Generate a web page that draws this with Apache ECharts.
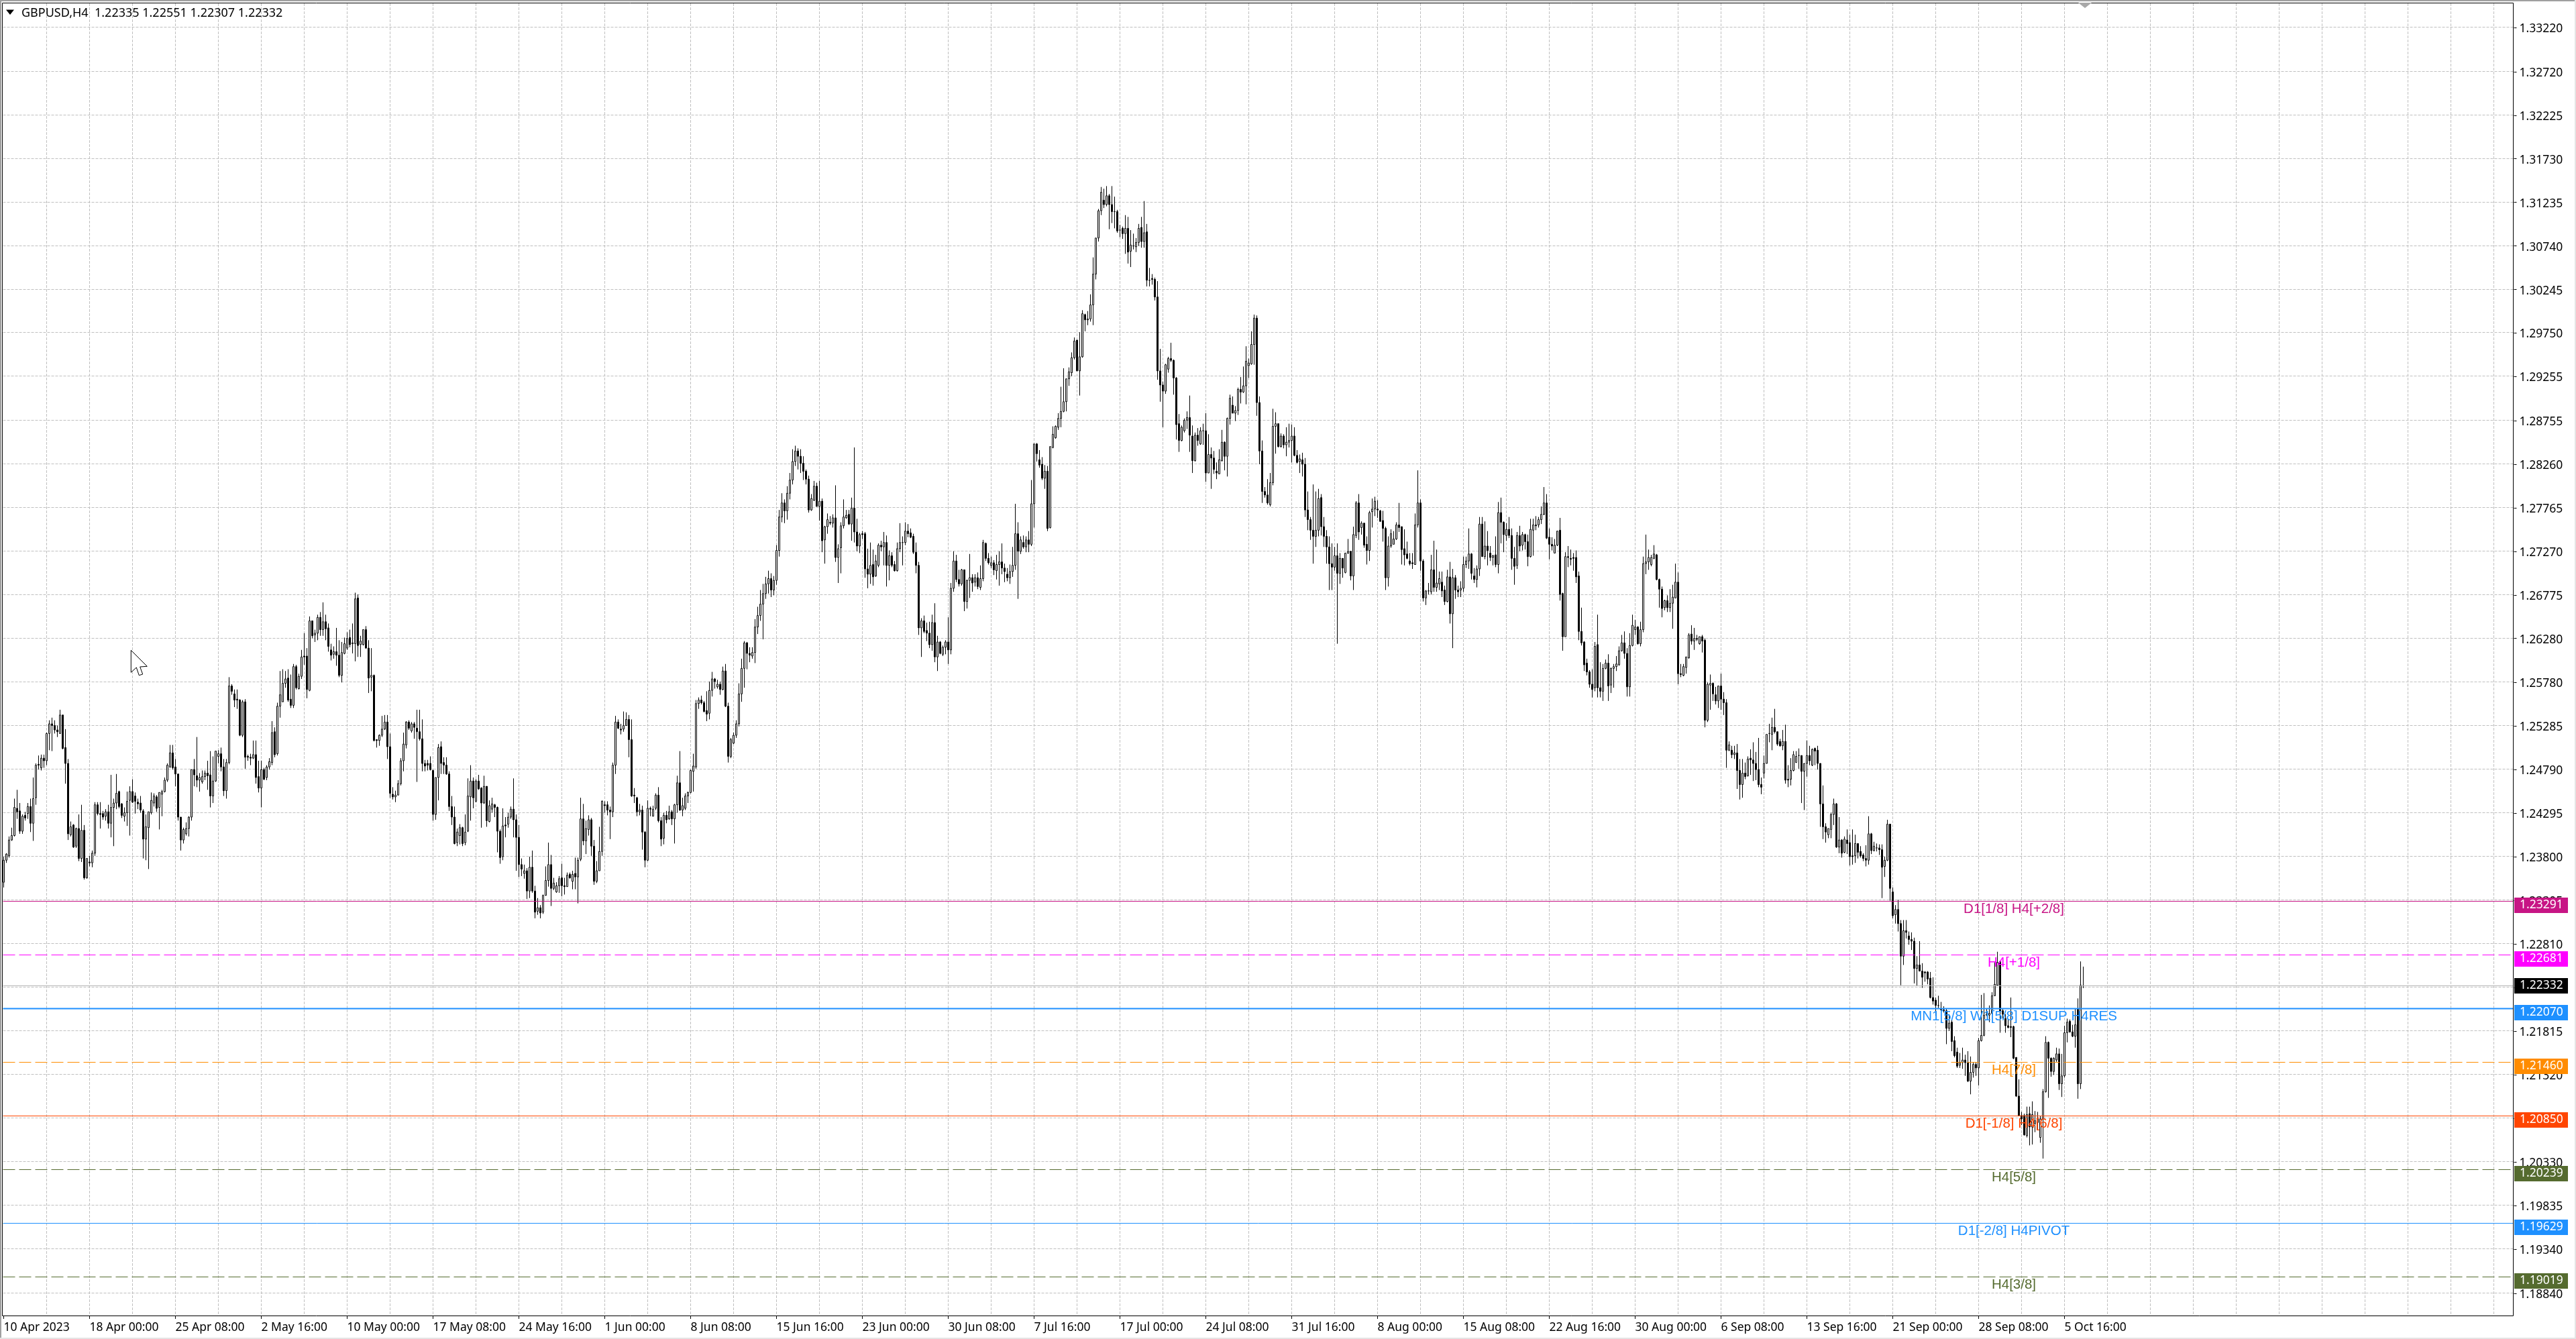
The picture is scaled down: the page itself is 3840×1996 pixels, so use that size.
<!DOCTYPE html>
<html><head><meta charset="utf-8"><style>html,body{margin:0;padding:0;background:#fff}#c{width:3840px;height:1996px}</style>
<script src="https://cdn.jsdelivr.net/npm/echarts@6/dist/echarts.min.js"></script></head><body><div id="c"></div>
<script>
// Each bar: [open, close, low, high] in units of 0.0001
const barsA=[[12351,12376,12345,12380],[12376,12383,12373,12384],[12381,12399,12379,12403],[12399,12404,12398,12413],[12404,12436,12403,12446],[12435,12431,12423,12456],[12432,12409,12406,12441],[12409,12426,12406,12428],[12427,12424,12421,12431],[12429,12437,12423,12441],[12437,12418,12408,12446],[12418,12446,12398,12470],[12447,12484,12439,12486],[12485,12484,12479,12495],[12481,12492,12478,12496],[12492,12489,12481,12496],[12489,12520,12484,12521],[12520,12531,12501,12535],[12531,12529,12500,12538],[12529,12524,12520,12535],[12524,12522,12516,12529],[12520,12541,12520,12547],[12541,12503,12502,12541],[12504,12486,12463,12525],[12486,12406,12399,12491],[12405,12414,12403,12420],[12416,12391,12390,12417],[12392,12412,12390,12413],[12412,12378,12375,12428],[12378,12410,12374,12439],[12410,12356,12354,12416],[12356,12378,12355,12378],[12374,12373,12369,12381],[12373,12384,12368,12387],[12384,12439,12381,12442],[12439,12429,12427,12442],[12429,12428,12412,12442],[12429,12425,12422,12432],[12426,12431,12421,12434],[12431,12418,12412,12439],[12418,12436,12402,12473],[12436,12441,12392,12446],[12441,12452,12434,12474],[12454,12437,12435,12455],[12440,12427,12424,12441],[12426,12430,12420,12436],[12430,12443,12415,12454],[12444,12454,12404,12460],[12454,12442,12441,12468],[12449,12443,12429,12453],[12442,12440,12434,12446],[12441,12433,12430,12449],[12432,12400,12378,12434],[12400,12414,12376,12428],[12413,12431,12366,12431],[12430,12444,12428,12453],[12441,12449,12437,12452],[12448,12435,12431,12450],[12436,12453,12411,12453],[12451,12454,12426,12456],[12454,12467,12453,12470],[12467,12484,12465,12486],[12482,12498,12481,12507],[12498,12481,12479,12507],[12482,12474,12460,12491],[12474,12425,12421,12474],[12425,12399,12387,12425],[12399,12411,12395,12413],[12406,12412,12404,12419],[12412,12425,12403,12426],[12425,12479,12421,12479],[12479,12473,12460,12491],[12472,12467,12459,12516],[12467,12470,12454,12475],[12465,12471,12463,12478],[12471,12475,12467,12478],[12475,12472,12456,12489],[12473,12449,12436,12500],[12449,12466,12441,12494],[12466,12500,12465,12500],[12494,12497,12486,12501],[12497,12482,12477,12504],[12482,12455,12449,12491],[12455,12487,12446,12491],[12487,12574,12485,12584],[12574,12568,12564,12576],[12565,12558,12550,12570],[12559,12558,12548,12570],[12558,12518,12517,12559],[12518,12556,12516,12558],[12556,12493,12480,12559],[12494,12493,12489,12496],[12493,12492,12484,12497],[12492,12496,12491,12512],[12496,12470,12463,12512],[12471,12458,12453,12489],[12458,12479,12436,12489],[12479,12468,12467,12481],[12470,12482,12467,12484],[12482,12488,12479,12492],[12487,12521,12484,12534],[12522,12496,12493,12527],[12497,12551,12495,12555],[12551,12564,12538,12591],[12556,12577,12556,12593],[12577,12582,12572,12591],[12583,12558,12556,12593],[12559,12552,12549,12587],[12552,12596,12549,12599],[12596,12572,12570,12598],[12571,12585,12570,12588],[12585,12607,12582,12615],[12608,12607,12598,12634],[12608,12570,12560,12617],[12569,12648,12568,12653],[12648,12631,12628,12648],[12632,12634,12624,12638],[12634,12652,12626,12655],[12652,12638,12631,12658],[12638,12647,12631,12669],[12647,12639,12626,12655],[12640,12619,12613,12645],[12615,12609,12603,12622],[12610,12613,12605,12619],[12613,12609,12597,12640],[12609,12586,12584,12626],[12586,12612,12578,12624],[12611,12622,12610,12629],[12617,12628,12615,12635],[12629,12621,12618,12638],[12622,12623,12611,12645],[12622,12673,12602,12680],[12674,12620,12607,12678],[12621,12625,12607,12631],[12621,12638,12620,12638],[12638,12617,12617,12642],[12617,12583,12566,12626],[12584,12586,12568,12617],[12586,12512,12511,12587],[12513,12512,12504,12513],[12512,12518,12506,12519],[12518,12525,12516,12540],[12525,12533,12524,12541],[12533,12505,12491,12541],[12505,12452,12447,12520],[12451,12448,12445,12459],[12448,12450,12442,12455],[12450,12463,12450,12467],[12463,12489,12461,12492],[12489,12508,12477,12521],[12507,12533,12503,12534],[12533,12526,12524,12535],[12523,12531,12521,12533],[12531,12527,12514,12533],[12526,12522,12465,12547],[12522,12514,12512,12547],[12514,12486,12477,12536],[12486,12483,12477,12490],[12486,12484,12478,12490],[12486,12479,12478,12494],[12478,12428,12421,12479],[12428,12470,12422,12470],[12470,12504,12444,12508],[12505,12486,12474,12511],[12487,12484,12474,12493],[12484,12474,12473,12493],[12474,12437,12432,12477],[12437,12425,12416,12449],[12425,12395,12394,12437],[12396,12408,12392,12412],[12404,12413,12394,12417],[12413,12395,12392,12414],[12396,12408,12393,12428],[12409,12449,12408,12469]];
const barsB=[[12448,12466,12421,12484],[12466,12447,12435,12470],[12443,12466,12442,12468],[12466,12457,12456,12473],[12458,12441,12413,12459],[12441,12460,12440,12472],[12460,12421,12414,12460],[12420,12438,12419,12444],[12434,12440,12430,12447],[12439,12436,12425,12440],[12436,12409,12385,12437],[12409,12379,12372,12411],[12380,12415,12376,12435],[12416,12415,12402,12425],[12417,12425,12413,12430],[12425,12434,12423,12437],[12434,12422,12402,12469],[12422,12402,12364,12428],[12402,12371,12357,12416],[12371,12366,12358,12378],[12361,12364,12355,12371],[12364,12341,12332,12367],[12341,12368,12333,12380],[12368,12341,12339,12387],[12341,12317,12310,12347],[12318,12322,12314,12333],[12322,12316,12310,12325],[12317,12336,12315,12337],[12336,12353,12336,12369],[12353,12371,12346,12396],[12371,12344,12324,12382],[12344,12350,12342,12356],[12340,12347,12339,12351],[12347,12355,12339,12358],[12356,12347,12335,12372],[12347,12346,12337,12356],[12346,12359,12346,12362],[12360,12356,12355,12362],[12352,12360,12343,12364],[12361,12357,12343,12379],[12357,12376,12327,12379],[12377,12423,12375,12447],[12423,12398,12393,12440],[12398,12412,12383,12421],[12411,12422,12404,12427],[12422,12392,12381,12424],[12392,12352,12348,12399],[12352,12364,12350,12375],[12364,12386,12364,12414],[12386,12443,12381,12444],[12439,12438,12430,12443],[12439,12433,12427,12443],[12433,12431,12400,12437],[12431,12484,12425,12487],[12484,12533,12474,12540],[12533,12526,12525,12536],[12525,12524,12519,12531],[12525,12529,12522,12545],[12529,12536,12529,12544],[12536,12513,12493,12541],[12513,12449,12448,12536],[12450,12449,12441,12458],[12447,12431,12426,12448],[12431,12433,12427,12440],[12433,12408,12388,12438],[12408,12376,12368,12409],[12376,12435,12375,12444],[12435,12434,12426,12437],[12426,12434,12426,12438],[12435,12450,12433,12452],[12450,12421,12419,12459],[12421,12400,12392,12425],[12401,12427,12394,12430],[12427,12422,12418,12432],[12423,12431,12422,12438],[12431,12423,12416,12433],[12423,12439,12395,12440],[12439,12464,12430,12472],[12464,12433,12432,12500],[12433,12438,12426,12447],[12435,12449,12433,12452],[12449,12453,12441,12454],[12453,12478,12452,12479],[12477,12483,12454,12497],[12482,12554,12480,12558],[12554,12558,12548,12561],[12558,12555,12553,12563],[12555,12545,12544,12557],[12546,12542,12534,12568],[12543,12569,12536,12579],[12569,12582,12562,12590],[12582,12579,12571,12583],[12573,12576,12571,12581],[12576,12570,12564,12579],[12570,12591,12569,12596],[12591,12551,12550,12599],[12551,12494,12487,12555],[12494,12513,12492,12515],[12509,12518,12508,12521],[12518,12531,12515,12535],[12531,12565,12528,12577],[12565,12594,12556,12605],[12594,12623,12572,12625],[12623,12611,12593,12624],[12611,12609,12601,12618],[12608,12612,12605,12618],[12612,12641,12600,12650],[12641,12654,12633,12664],[12654,12667,12648,12683],[12667,12679,12627,12690],[12679,12690,12673,12698],[12690,12696,12679,12705],[12696,12683,12675,12702],[12683,12694,12677,12699],[12694,12728,12689,12734],[12728,12766,12721,12774],[12766,12782,12760,12793],[12782,12773,12759,12786],[12773,12793,12763,12801],[12793,12808,12786,12816],[12808,12829,12803,12843],[12829,12841,12824,12847],[12841,12835,12820,12844],[12835,12827,12816,12843],[12827,12818,12808,12835]];
const barsC=[[12818,12809,12803,12820],[12809,12774,12771,12813],[12774,12787,12773,12792],[12785,12801,12784,12807],[12801,12778,12778,12805],[12778,12784,12762,12807],[12784,12739,12726,12787],[12740,12755,12713,12756],[12755,12763,12747,12770],[12760,12759,12757,12767],[12759,12765,12754,12769],[12765,12720,12715,12802],[12720,12730,12691,12735],[12731,12756,12702,12760],[12756,12766,12753,12786],[12765,12768,12764,12774],[12769,12758,12757,12774],[12758,12776,12739,12788],[12776,12749,12737,12845],[12749,12733,12727,12764],[12733,12746,12725,12748],[12747,12746,12741,12750],[12747,12707,12697,12749],[12707,12701,12685,12730],[12701,12711,12690,12737],[12712,12698,12688,12729],[12699,12716,12698,12723],[12711,12734,12709,12736],[12734,12732,12727,12739],[12732,12737,12711,12749],[12737,12711,12687,12745],[12711,12722,12694,12728],[12722,12711,12709,12726],[12712,12705,12704,12716],[12705,12730,12704,12737],[12730,12737,12726,12759],[12737,12737,12711,12744],[12737,12750,12734,12760],[12750,12747,12743,12758],[12748,12743,12742,12753],[12744,12726,12724,12747],[12726,12711,12702,12737],[12711,12640,12632,12715],[12640,12648,12607,12651],[12648,12636,12634,12654],[12637,12634,12625,12646],[12634,12621,12617,12647],[12621,12646,12614,12655],[12646,12607,12601,12668],[12607,12624,12591,12631],[12624,12611,12610,12625],[12610,12618,12608,12620],[12618,12624,12610,12626],[12624,12615,12599,12652],[12615,12685,12610,12691],[12685,12716,12681,12727],[12716,12695,12692,12723],[12695,12690,12687,12706],[12690,12706,12688,12707],[12706,12670,12659,12706],[12670,12694,12662,12695],[12694,12697,12674,12724],[12697,12691,12681,12701],[12692,12697,12687,12701],[12697,12687,12684,12703],[12686,12696,12683,12711],[12696,12737,12693,12740],[12736,12719,12716,12737],[12719,12714,12712,12725],[12711,12714,12708,12721],[12714,12706,12700,12717],[12705,12712,12695,12723],[12712,12715,12688,12727],[12715,12708,12701,12736],[12708,12704,12692,12713],[12701,12697,12693,12708],[12697,12704,12690,12712],[12704,12711,12698,12732],[12711,12747,12706,12781],[12747,12727,12673,12760],[12727,12740,12724,12744],[12737,12732,12730,12745],[12732,12740,12726,12744],[12740,12735,12726,12750],[12735,12781,12733,12808],[12781,12849,12754,12849],[12849,12838,12829,12850],[12831,12825,12822,12842],[12826,12810,12808,12834],[12810,12818,12798,12825],[12818,12753,12750,12824],[12754,12846,12753,12846],[12845,12860,12844,12869],[12856,12869,12855,12870],[12868,12878,12865,12884],[12878,12886,12868,12914],[12886,12897,12885,12935],[12897,12923,12886,12923],[12923,12931,12915,12936],[12930,12947,12926,12953],[12947,12966,12945,12970],[12967,12932,12932,12967],[12932,12948,12904,12976],[12948,12997,12947,13001],[12996,12990,12977,12997],[12990,12991,12984,13000],[12991,13007,12988,13019],[13007,13042,12984,13061],[13042,13083,13036,13083],[13083,13114,13079,13116],[13114,13135,13109,13141],[13126,13121,13117,13139],[13121,13131,13119,13142],[13131,13121,13093,13133],[13121,13113,13100,13142],[13113,13113,13094,13130],[13113,13091,13089,13115],[13092,13092,13084,13098],[13094,13088,13082,13096],[13088,13094,13065,13109],[13094,13067,13054,13107],[13068,13075,13050,13092],[13074,13074,13070,13088],[13073,13078,13067,13083],[13078,13094,13074,13099],[13095,13079,13072,13107],[13079,13089,13072,13125],[13090,13035,13028,13099],[13035,13035,13028,13049],[13037,13036,13030,13042],[13036,13016,13012,13038],[13016,12932,12922,13034],[12932,12916,12897,12957],[12916,12909,12868,12920],[12909,12939,12906,12940],[12934,12946,12930,12948],[12946,12944,12942,12964],[12944,12924,12905,12945],[12924,12871,12854,12925],[12872,12853,12840,12883],[12853,12868,12852,12870],[12864,12876,12862,12878],[12876,12879,12866,12886],[12879,12859,12840,12904],[12858,12830,12816,12870],[12830,12859,12829,12862],[12859,12853,12847,12867],[12849,12864,12848,12868],[12864,12864,12848,12872],[12864,12816,12806,12884],[12816,12837,12816,12860],[12837,12833,12798,12845],[12833,12820,12815,12841],[12818,12816,12809,12828],[12815,12831,12815,12843],[12830,12851,12829,12865],[12851,12835,12819,12852],[12835,12878,12812,12879],[12878,12901,12871,12905],[12893,12884,12884,12903],[12884,12887,12875,12892],[12887,12911,12882,12913],[12911,12908,12895,12925],[12908,12915,12907,12937],[12915,12943,12894,12960],[12938,12941,12924,12946],[12940,12962,12939,12977],[12962,12992,12939,12996],[12992,12896,12881,12995],[12896,12841,12826,12903],[12841,12795,12782,12853],[12795,12791,12788,12800],[12791,12782,12780,12809],[12780,12805,12778,12816],[12805,12869,12802,12889],[12869,12872,12838,12885],[12872,12846,12845,12872],[12846,12858,12845,12861],[12858,12848,12844,12860],[12848,12851,12835,12868],[12851,12853,12845,12872],[12853,12858,12828,12871],[12858,12836,12835,12868],[12836,12828,12827,12842],[12829,12832,12816,12837],[12831,12826,12812,12839]];
const barsD=[[12826,12774,12766,12833],[12774,12763,12751,12795],[12763,12751,12740,12766],[12751,12744,12713,12803],[12744,12751,12732,12795],[12751,12787,12744,12798],[12788,12755,12745,12792],[12755,12744,12732,12766],[12744,12732,12713,12751],[12732,12713,12683,12744],[12713,12709,12683,12736],[12709,12722,12705,12732],[12722,12702,12622,12736],[12702,12719,12690,12725],[12719,12708,12697,12719],[12703,12725,12702,12725],[12725,12727,12724,12741],[12727,12699,12694,12727],[12699,12746,12683,12755],[12745,12782,12742,12784],[12782,12749,12740,12792],[12754,12759,12746,12761],[12759,12734,12731,12759],[12735,12728,12712,12744],[12728,12771,12716,12773],[12772,12775,12754,12787],[12775,12784,12767,12789],[12775,12774,12765,12785],[12773,12761,12761,12774],[12762,12753,12738,12773],[12753,12697,12683,12755],[12697,12733,12687,12744],[12733,12747,12731,12752],[12735,12741,12735,12750],[12741,12757,12740,12760],[12757,12754,12749,12782],[12755,12729,12712,12755],[12730,12723,12711,12752],[12724,12719,12718,12738],[12716,12713,12711,12725],[12714,12713,12707,12725],[12712,12757,12712,12770],[12757,12782,12754,12819],[12782,12716,12705,12786],[12716,12674,12670,12718],[12674,12682,12666,12683],[12682,12682,12678,12691],[12681,12706,12678,12723],[12706,12686,12681,12739],[12686,12691,12681,12729],[12690,12696,12683,12704],[12692,12682,12675,12704],[12683,12670,12666,12688],[12670,12698,12669,12706],[12698,12656,12645,12715],[12656,12697,12617,12707],[12697,12683,12673,12700],[12683,12681,12675,12688],[12683,12685,12675,12693],[12685,12712,12681,12721],[12712,12716,12708,12721],[12716,12724,12707,12753],[12724,12702,12695,12725],[12699,12695,12691,12708],[12695,12707,12686,12711],[12707,12758,12699,12766],[12758,12721,12721,12766],[12721,12733,12718,12761],[12733,12728,12711,12750],[12725,12720,12716,12733],[12720,12722,12711,12723],[12723,12712,12709,12744],[12712,12771,12702,12783],[12771,12760,12736,12788],[12760,12746,12726,12761],[12745,12752,12739,12759],[12752,12745,12742,12766],[12745,12719,12706,12753],[12719,12710,12689,12732],[12711,12745,12707,12749],[12745,12733,12727,12756],[12734,12746,12728,12749],[12746,12738,12729,12747],[12738,12721,12710,12746],[12721,12752,12720,12764],[12751,12757,12722,12764],[12757,12756,12751,12767],[12757,12763,12754,12766],[12763,12769,12758,12778],[12769,12782,12768,12800],[12782,12742,12741,12792],[12743,12735,12718,12753],[12735,12733,12728,12743],[12725,12734,12725,12741],[12734,12750,12733,12750],[12751,12678,12671,12765],[12679,12630,12614,12680],[12630,12721,12630,12726],[12721,12720,12709,12733],[12719,12718,12711,12729],[12720,12719,12705,12725],[12720,12698,12691,12728],[12699,12636,12626,12704],[12636,12623,12620,12663],[12624,12598,12591,12625],[12600,12590,12586,12605],[12590,12576,12572,12592],[12576,12570,12561,12593],[12572,12619,12568,12624],[12621,12572,12561,12655],[12572,12568,12561,12601],[12568,12594,12557,12599],[12594,12600,12593,12604],[12600,12574,12557,12610]];
const barsE=[[12575,12594,12566,12595],[12594,12596,12572,12599],[12596,12599,12591,12608],[12598,12614,12597,12619],[12614,12623,12613,12632],[12623,12611,12605,12636],[12611,12573,12562,12617],[12573,12620,12562,12634],[12620,12643,12619,12655],[12638,12641,12632,12649],[12641,12622,12621,12642],[12622,12638,12619,12647],[12638,12713,12635,12721],[12713,12715,12701,12746],[12715,12720,12706,12729],[12712,12720,12710,12723],[12719,12724,12718,12734],[12723,12695,12694,12724],[12695,12684,12663,12696],[12684,12662,12652,12687],[12663,12671,12660,12672],[12671,12663,12658,12677],[12663,12668,12658,12684],[12668,12675,12639,12689],[12674,12692,12674,12713],[12692,12588,12576,12703],[12588,12587,12584,12599],[12586,12596,12585,12599],[12595,12607,12588,12607],[12606,12632,12605,12634],[12633,12625,12621,12643],[12625,12628,12615,12640],[12628,12627,12625,12632],[12622,12630,12621,12630],[12630,12625,12612,12632],[12626,12535,12527,12628],[12535,12576,12533,12578],[12575,12577,12547,12587],[12577,12565,12557,12578],[12564,12557,12553,12573],[12557,12574,12549,12574],[12574,12559,12547,12588],[12559,12555,12541,12567],[12555,12501,12481,12559],[12501,12507,12500,12511],[12501,12496,12492,12506],[12496,12498,12491,12506],[12498,12478,12457,12508],[12478,12462,12445,12491],[12462,12475,12447,12491],[12475,12471,12468,12487],[12472,12491,12471,12494],[12492,12490,12473,12502],[12490,12486,12466,12510],[12486,12479,12467,12499],[12479,12462,12459,12515],[12462,12459,12451,12470],[12475,12486,12469,12495],[12486,12519,12486,12519],[12520,12520,12510,12531],[12519,12527,12501,12538],[12527,12522,12520,12548],[12522,12508,12506,12522],[12511,12506,12505,12514],[12506,12511,12501,12524],[12511,12467,12463,12530],[12468,12467,12459,12484],[12468,12478,12461,12492],[12478,12496,12477,12500],[12487,12494,12487,12500],[12495,12495,12480,12503],[12495,12477,12441,12495],[12477,12486,12433,12486],[12486,12495,12471,12512],[12495,12489,12484,12506],[12484,12502,12483,12503],[12503,12500,12484,12504],[12501,12486,12479,12506],[12486,12440,12414,12486],[12440,12414,12400,12461],[12414,12408,12396,12418],[12405,12412,12401,12412],[12411,12428,12401,12430],[12428,12440,12416,12446],[12440,12391,12390,12441],[12391,12399,12384,12425],[12399,12384,12379,12400],[12385,12400,12384,12403],[12399,12395,12383,12411],[12396,12380,12370,12405],[12381,12380,12371,12411],[12381,12395,12373,12405],[12395,12385,12378,12395],[12386,12381,12379,12392],[12382,12378,12375,12384],[12378,12376,12369,12393],[12376,12406,12371,12426],[12406,12387,12383,12407],[12387,12392,12386,12397],[12390,12390,12386,12395]];
const barsF=[[12390,12388,12382,12394],[12388,12368,12333,12394],[12369,12376,12357,12380],[12376,12417,12375,12422],[12417,12344,12330,12417],[12340,12313,12310,12345],[12314,12320,12304,12325],[12320,12304,12295,12331],[12304,12267,12234,12308],[12267,12296,12257,12308],[12296,12294,12287,12308],[12290,12286,12280,12295],[12286,12284,12274,12294],[12284,12253,12236,12288],[12253,12257,12233,12267],[12257,12250,12250,12284],[12250,12243,12231,12259],[12249,12248,12238,12250],[12249,12241,12235,12250],[12242,12220,12219,12249],[12220,12216,12212,12243],[12217,12211,12199,12220],[12211,12211,12208,12222],[12207,12206,12201,12215],[12206,12205,12203,12210],[12205,12185,12167,12207],[12185,12191,12182,12201],[12192,12170,12159,12195],[12171,12154,12152,12176],[12158,12142,12140,12163],[12143,12146,12140,12157],[12146,12149,12139,12163],[12149,12146,12131,12155],[12146,12125,12124,12159],[12125,12135,12110,12153],[12135,12144,12129,12146],[12144,12140,12131,12146],[12140,12171,12120,12174],[12171,12177,12170,12223],[12177,12200,12176,12225],[12200,12201,12199,12207],[12200,12202,12192,12211],[12202,12222,12201,12226],[12222,12235,12222,12260],[12234,12260,12234,12272],[12261,12205,12180,12261],[12205,12201,12196,12207],[12196,12188,12180,12201],[12188,12186,12185,12195],[12187,12186,12175,12220],[12187,12151,12150,12188],[12152,12108,12107,12152],[12108,12086,12085,12127],[12086,12082,12075,12090],[12086,12064,12063,12088],[12063,12087,12061,12096],[12088,12073,12052,12096],[12073,12087,12053,12102],[12077,12080,12067,12091],[12078,12082,12070,12090],[12061,12082,12055,12085],[12082,12113,12037,12116],[12113,12169,12112,12176],[12169,12151,12106,12170],[12151,12136,12130,12152],[12136,12151,12132,12152],[12149,12156,12147,12163],[12156,12122,12115,12162],[12122,12131,12107,12156],[12131,12180,12129,12188],[12180,12192,12169,12196],[12193,12181,12180,12195],[12181,12176,12175,12189],[12176,12189,12163,12207],[12207,12122,12105,12219],[12122,12234,12116,12261],[12233.5,12233.2,12230.7,12255.1]];
const bars=[...barsA,...barsB,...barsC,...barsD,...barsE,...barsF];
const xTickLabels=['10 Apr 2023','18 Apr 00:00','25 Apr 08:00','2 May 16:00','10 May 00:00','17 May 08:00','24 May 16:00','1 Jun 00:00','8 Jun 08:00','15 Jun 16:00','23 Jun 00:00','30 Jun 08:00','7 Jul 16:00','17 Jul 00:00','24 Jul 08:00','31 Jul 16:00','8 Aug 00:00','15 Aug 08:00','22 Aug 16:00','30 Aug 00:00','6 Sep 08:00','13 Sep 16:00','21 Sep 00:00','28 Sep 08:00','5 Oct 16:00'];
const yTicks=[1.33220,1.32720,1.32225,1.31730,1.31235,1.30740,1.30245,1.29750,1.29255,1.28755,1.28260,1.27765,1.27270,1.26775,1.26280,1.25780,1.25285,1.24790,1.24295,1.23800,1.23305,1.22810,1.22315,1.21815,1.21320,1.20825,1.20330,1.19835,1.19340,1.18840];
const levelValues=[1.23291,1.22681,1.22332,1.22070,1.21460,1.20850,1.20239,1.19629,1.19019];
const levelColors=['#C71585','#FF00FF','#000000','#1E90FF','#FF8C00','#FF4500','#556B2F','#1E90FF','#556B2F'];
const levelLineColors=['#C71585','#FF00FF','#B4B4B4','#1E90FF','#FF8C00','#FF4500','#556B2F','#1E90FF','#556B2F'];
const levelDash=[0,1,0,0,1,0,1,0,1];
const levelWidth=[1,1,1,2,1,1,1,1,1];
const levelText=['D1[1/8] H4[+2/8]','H4[+1/8]','','MN1[5/8] W1[5/8] D1SUP H4RES','H4[7/8]','D1[-1/8] H4[6/8]','H4[5/8]','D1[-2/8] H4PIVOT','H4[3/8]'];
const gridStep=16, labelStep=32, slots=936;
const categories=Array.from({length:slots},(_,i)=>i%labelStep===0&&xTickLabels[i/labelStep]?xTickLabels[i/labelStep]:'');
const vGrid=Array.from({length:Math.floor(slots/gridStep)},(_,k)=>(k+1)*gridStep).filter(i=>i<slots);
const F='"Noto Sans",sans-serif';
const chart=echarts.init(document.getElementById('c'),null,{renderer:'canvas'});
chart.setOption({animation:false,backgroundColor:'#fff',
 title:{text:'GBPUSD,H4  1.22335 1.22551 1.22307 1.22332',left:27,top:6,textStyle:{fontFamily:F,fontSize:18,fontWeight:'normal',color:'#000'}},
 grid:{left:3.5,width:3744,top:4,height:1958,show:false},
 xAxis:{type:'category',data:categories,boundaryGap:true,axisLine:{show:false},splitLine:{show:false},
  axisTick:{show:true,alignWithLabel:true,interval:i=>i%labelStep===0&&!!xTickLabels[i/labelStep],length:4,lineStyle:{color:'#000'}},
  axisLabel:{show:true,interval:labelStep-1,align:'left',margin:8,fontFamily:F,fontSize:17.5,color:'#000',hideOverlap:false}},
 yAxis:{type:'value',position:'right',min:1.18579,max:1.33504,scale:true,axisLine:{show:false},splitLine:{show:false},
  axisTick:{show:true,customValues:yTicks,length:4,lineStyle:{color:'#000'}},
  axisLabel:{show:true,customValues:yTicks,margin:8,formatter:v=>'{a|'+v.toFixed(5)+'}',rich:{a:{fontFamily:F,fontSize:17.5,color:'#000',padding:[4,0,0,0]}}}},
 series:[
 {type:'custom',z:1,silent:true,coordinateSystem:'cartesian2d',data:yTicks.map(v=>[0,v]),renderItem:(p,api)=>{const y=Math.round(api.coord([0,api.value(1)])[1])-.5;const g=p.coordSys;return{type:'line',shape:{x1:g.x+1,y1:y,x2:g.x+g.width-1,y2:y},style:{stroke:'#C0C0C0',lineWidth:1,lineDash:[4,2]}}}},
 {type:'custom',z:1,silent:true,coordinateSystem:'cartesian2d',data:vGrid.map(i=>[i,yTicks[0]]),renderItem:(p,api)=>{const x=api.coord([api.value(0),0])[0];const g=p.coordSys;return{type:'line',shape:{x1:x,y1:g.y+1,x2:x,y2:g.y+g.height},style:{stroke:'#C0C0C0',lineWidth:1,lineDash:[4,2]}}}},
 {type:'candlestick',z:2,barWidth:2,large:false,data:bars.map(b=>b.map(v=>v/10000)),itemStyle:{color:'#fff',color0:'#000',borderColor:'#000',borderColor0:'#000',borderColorDoji:'#000',borderWidth:1},progressive:0,silent:true},
 {type:'custom',z:5,silent:true,coordinateSystem:'cartesian2d',clip:false,data:levelValues.map((v,i)=>[i,v]),renderItem:(p,api)=>{
   const i=api.value(0),v=api.value(1),g=p.coordSys;const y=Math.round(api.coord([0,v])[1])-.5;const ch=[];
   ch.push({type:'line',shape:{x1:g.x+1,y1:y,x2:g.x+g.width-(levelDash[i]?5:1),y2:y},style:{stroke:levelLineColors[i],lineWidth:levelWidth[i],lineDash:levelDash[i]?[18,6]:null}});
   if(levelText[i])ch.push({type:'text',style:{x:3002,y:y+11.5,text:levelText[i],fill:levelColors[i],font:'20.5px "Liberation Sans"',textAlign:'center',textVerticalAlign:'middle'}});
   const off=i===2?-1:5;
   ch.push({type:'rect',shape:{x:3748,y:y+off-10.5,width:80,height:23},style:{fill:levelColors[i]}});
   ch.push({type:'text',style:{x:3756,y:y+off+1,text:v.toFixed(5),fill:'#fff',font:'17.5px "Noto Sans"',textAlign:'left',textVerticalAlign:'middle'}});
   return{type:'group',children:ch}}}
 ],
 graphic:[
 {type:'rect',silent:true,z:10,shape:{x:3.5,y:4.5,width:3743,height:1957},style:{fill:null,stroke:'#000',lineWidth:1}},
 {type:'rect',silent:true,shape:{x:0,y:0,width:3840,height:2},style:{fill:'#A0A0A0'}},
 {type:'rect',silent:true,shape:{x:0,y:0,width:2,height:1996},style:{fill:'#A0A0A0'}},
 {type:'rect',silent:true,shape:{x:3838,y:0,width:2,height:1996},style:{fill:'#E4E4E4'}},
 {type:'rect',silent:true,shape:{x:0,y:1994,width:3840,height:2},style:{fill:'#E4E4E4'}},
 {type:'polygon',silent:true,z:10,shape:{points:[[9,14.5],[21,14.5],[15,22]]},style:{fill:'#000'}},
 {type:'polygon',silent:true,z:10,shape:{points:[[3098,4],[3118,4],[3108,12]]},style:{fill:'#A8A8A8'}},
 {type:'polygon',silent:true,z:10,shape:{points:[[195.3,969.3],[219.3,993.3],[208.7,994],[212.7,1005],[207.3,1006.7],[203.3,995],[195.3,1002.3]]},style:{fill:'#fff',stroke:'#000',lineWidth:1}}
 ]});
</script></body></html>
